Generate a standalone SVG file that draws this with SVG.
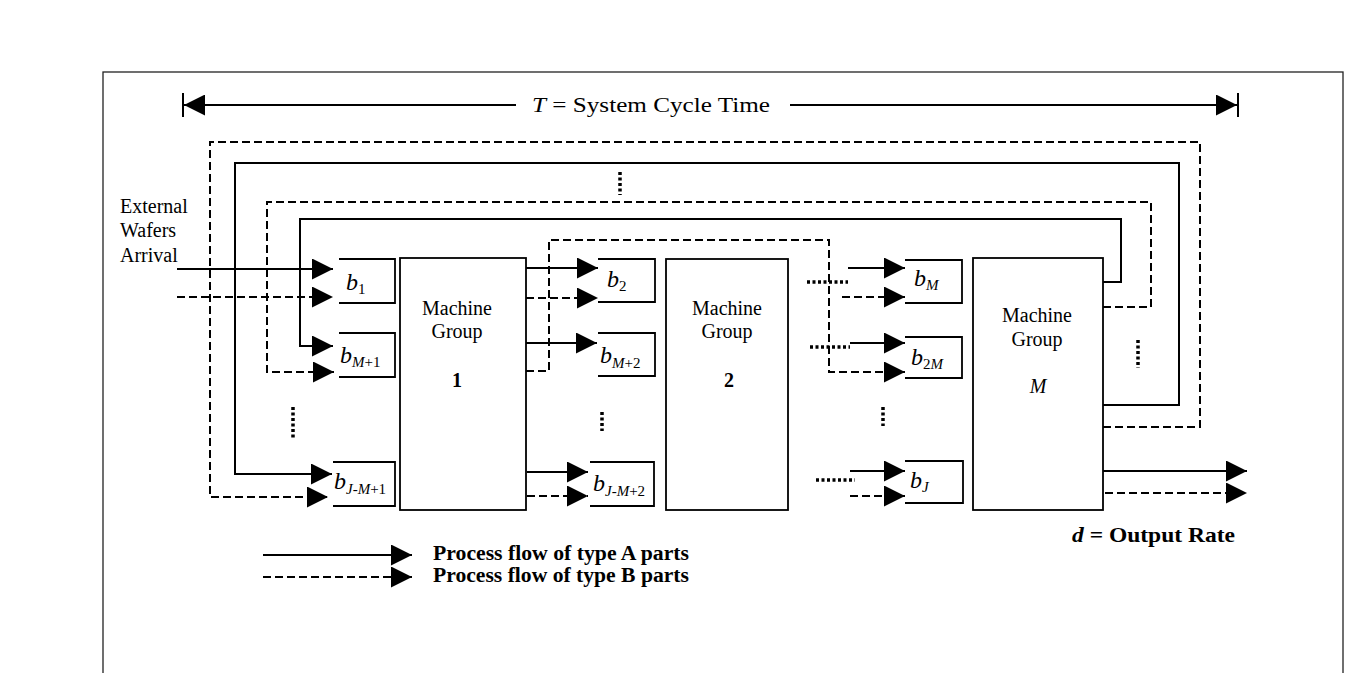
<svg xmlns="http://www.w3.org/2000/svg" width="1361" height="673" viewBox="0 0 1361 673">
<style>
.ln{fill:none;stroke:#000;stroke-width:2}
.da{fill:none;stroke:#000;stroke-width:2;stroke-dasharray:8 4}
.dt{fill:none;stroke:#000;stroke-width:3.5;stroke-dasharray:3 2.5}
.box{fill:#fff;stroke:#000;stroke-width:1.8}
.buf{fill:none;stroke:#000;stroke-width:1.8}
.t{font-family:"Liberation Serif","Times New Roman",serif;fill:#000}
.mg{font-size:20px;text-anchor:middle}
.b{font-size:24px;font-style:italic}
.s{font-size:15px;font-style:normal}
.si{font-size:15px;font-style:italic}
</style>
<defs>
<marker id="ah" markerUnits="userSpaceOnUse" markerWidth="21" markerHeight="21" refX="21" refY="10.5" orient="auto-start-reverse" viewBox="0 0 21 21">
<path d="M0,0 L21,10.5 L0,21 z" fill="#000"/>
</marker>
</defs>
<rect x="0" y="0" width="1361" height="673" fill="#fff"/>
<rect id="frame" x="103" y="72" width="1240" height="620" fill="none" stroke="#222" stroke-width="1.3"/>

<g id="cycle-time">
<line class="ln" x1="183" y1="93" x2="183" y2="117"/>
<line class="ln" x1="1238" y1="93" x2="1238" y2="117"/>
<line class="ln" x1="184" y1="105" x2="516" y2="105" marker-start="url(#ah)"/>
<line class="ln" x1="790" y1="105" x2="1237" y2="105" marker-end="url(#ah)"/>
<text class="t" x="532" y="112" font-size="21" textLength="238" lengthAdjust="spacingAndGlyphs"><tspan font-style="italic">T</tspan> = System Cycle Time</text>
</g>

<g id="connectors">
<path class="ln" d="M177,269 H333" marker-end="url(#ah)"/>
<path class="da" d="M177,297 H333" marker-end="url(#ah)"/>
<path class="ln" d="M1103,282 H1121 V219 H300 V346 H333" marker-end="url(#ah)"/>
<path class="da" d="M1103,307 H1151 V202 H267 V372 H334" marker-end="url(#ah)"/>
<path class="ln" d="M1103,405 H1179 V163 H235 V474 H332" marker-end="url(#ah)"/>
<path class="da" d="M1103,427 H1200 V142 H210 V497 H328" marker-end="url(#ah)"/>
<path class="ln" d="M526,268 H598" marker-end="url(#ah)"/>
<path class="da" d="M526,298 H598" marker-end="url(#ah)"/>
<path class="ln" d="M526,343 H597" marker-end="url(#ah)"/>
<path class="da" d="M526,371 H549 V240 H829 V372 H905" marker-end="url(#ah)"/>
<path class="ln" d="M527,472 H588" marker-end="url(#ah)"/>
<path class="da" d="M527,496 H588" marker-end="url(#ah)"/>
<path class="ln" d="M848,268 H905" marker-end="url(#ah)"/>
<path class="da" d="M842,297 H905" marker-end="url(#ah)"/>
<path class="ln" d="M850,343 H905" marker-end="url(#ah)"/>
<path class="ln" d="M850,471 H905" marker-end="url(#ah)"/>
<path class="da" d="M850,496 H905" marker-end="url(#ah)"/>
<path class="ln" d="M1103,471 H1247" marker-end="url(#ah)"/>
<path class="da" d="M1105,493 H1247" marker-end="url(#ah)"/>
<path class="dt" d="M807,282 H848"/>
<path class="dt" d="M810,347 H850"/>
<path class="dt" d="M816,480 H855"/>
<path class="dt" d="M293,407 V438"/>
<path class="dt" d="M602,412 V431"/>
<path class="dt" d="M883,407 V426"/>
<path class="dt" d="M1138,340 V368"/>
<path class="dt" d="M620,172 V195"/>
</g>

<g id="external-label">
<text class="t" x="120" y="213" font-size="20">External</text>
<text class="t" x="120" y="237" font-size="20">Wafers</text>
<text class="t" x="120" y="262" font-size="20">Arrival</text>
</g>

<g id="mg1">
<rect class="box" x="400" y="258" width="126" height="252"/>
<text class="t mg" x="457" y="315">Machine</text>
<text class="t mg" x="457" y="338">Group</text>
<text class="t mg" x="457" y="387" font-weight="bold">1</text>
</g>
<g id="mg2">
<rect class="box" x="666" y="259" width="122" height="251"/>
<text class="t mg" x="727" y="315">Machine</text>
<text class="t mg" x="727" y="338">Group</text>
<text class="t mg" x="729" y="387" font-weight="bold">2</text>
</g>
<g id="mgM">
<rect class="box" x="973" y="258" width="130" height="252"/>
<text class="t mg" x="1037" y="322">Machine</text>
<text class="t mg" x="1037" y="346">Group</text>
<text class="t mg" x="1038" y="393" font-style="italic">M</text>
</g>

<g id="b1"><path class="buf" d="M339,259 H395 V303 H339"/>
<text class="t b" x="346" y="290">b<tspan class="s" dy="4">1</tspan></text></g>
<g id="bM1"><path class="buf" d="M339,333 H395 V377 H339"/>
<text class="t b" x="340" y="363">b<tspan class="si" dy="4">M</tspan><tspan class="s">+1</tspan></text></g>
<g id="bJM1"><path class="buf" d="M333,462 H395 V506 H333"/>
<text class="t b" x="334" y="489">b<tspan class="si" dy="5">J-M</tspan><tspan class="s">+1</tspan></text></g>
<g id="b2"><path class="buf" d="M598,259 H655 V302 H598"/>
<text class="t b" x="607" y="287">b<tspan class="s" dy="4">2</tspan></text></g>
<g id="bM2"><path class="buf" d="M598,333 H655 V376 H598"/>
<text class="t b" x="600" y="363">b<tspan class="si" dy="5">M</tspan><tspan class="s">+2</tspan></text></g>
<g id="bJM2"><path class="buf" d="M590,462 H654 V506 H590"/>
<text class="t b" x="593" y="491">b<tspan class="si" dy="5">J-M</tspan><tspan class="s">+2</tspan></text></g>
<g id="bM"><path class="buf" d="M905,260 H962 V303 H905"/>
<text class="t b" x="914" y="286">b<tspan class="si" dy="4">M</tspan></text></g>
<g id="b2M"><path class="buf" d="M905,337 H962 V378 H905"/>
<text class="t b" x="911" y="365">b<tspan class="s" dy="4">2</tspan><tspan class="si">M</tspan></text></g>
<g id="bJ"><path class="buf" d="M905,461 H963 V503 H905"/>
<text class="t b" x="910" y="488">b<tspan class="si" dy="4">J</tspan></text></g>

<g id="output-label">
<text class="t" x="1072" y="542" font-size="22" font-weight="bold" textLength="163" lengthAdjust="spacingAndGlyphs"><tspan font-style="italic">d</tspan> = Output Rate</text>
</g>

<g id="legend">
<path class="ln" d="M263,555 H412" marker-end="url(#ah)"/>
<path class="da" d="M263,577 H412" marker-end="url(#ah)"/>
<text class="t" x="433" y="560" font-size="20" font-weight="bold" textLength="256" lengthAdjust="spacingAndGlyphs">Process flow of type A parts</text>
<text class="t" x="433" y="582" font-size="20" font-weight="bold" textLength="256" lengthAdjust="spacingAndGlyphs">Process flow of type B parts</text>
</g>
</svg>
